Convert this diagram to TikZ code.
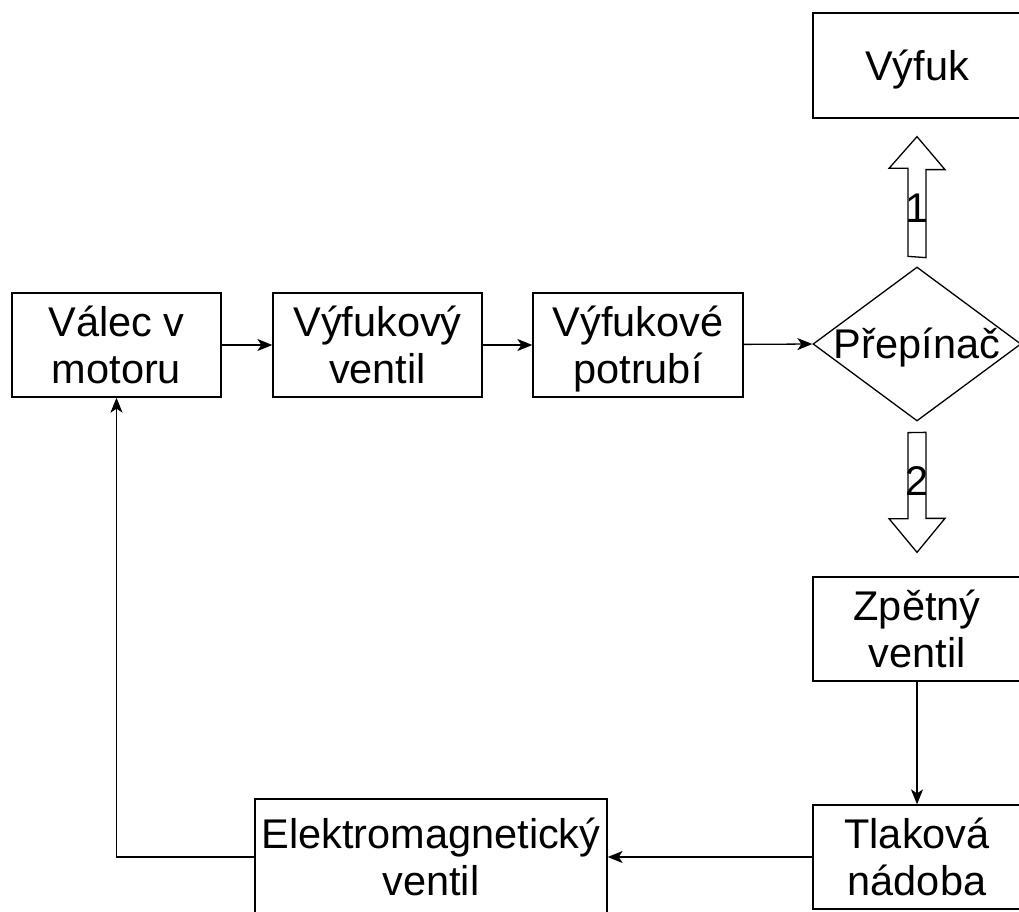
\documentclass[tikz,border=0pt]{standalone}
\usepackage{fontspec}
\setmainfont{Liberation Sans}
\usetikzlibrary{calc,arrows.meta,positioning,shapes.geometric}

% same line box for every text line
\newcommand{\lnstrut}{\rule[-8pt]{0pt}{46pt}}

\tikzset{
  box/.style={draw,line width=1.3pt,minimum width=209pt,minimum height=104pt,
    inner sep=0pt,align=center,font=\fontsize{41.5}{47}\selectfont},
  conn/.style={line width=1.3pt,-{Stealth[length=15pt,width=12pt,inset=4pt]}},
  blockarr/.style={draw,line width=1.3pt,line join=miter},
  numlabel/.style={inner sep=0pt,font=\fontsize{41.5}{47}\selectfont}
}

\begin{document}
\begin{tikzpicture}[x=1pt,y=-1pt]
        \useasboundingbox (0,0) rectangle (1019,912);
        \clip (0,0) rectangle (1019,912);

        % upper row
        \node[box] (valec) at (116.5,345) {Válec v\lnstrut\\motoru\lnstrut};
        \node[box] (vventil) at (377.5,345) {Výfukový\lnstrut\\ventil\lnstrut};
        \node[box,minimum width=210pt] (potrubi) at (638,345) {Výfukové\lnstrut\\potrubí\lnstrut};
        \node[diamond,draw,line width=1.3pt,minimum width=208pt,minimum height=154pt,
              inner sep=0pt,label={[numlabel]center:Přepínač\lnstrut}] (prep) at (917,344) {};

        % right column
        \node[box,minimum width=208pt,minimum height=105pt] (vyfuk) at (917,65.5) {Výfuk\lnstrut};
        \node[box,minimum width=208pt] (zpet) at (917,629) {Zpětný\lnstrut\\ventil\lnstrut};
        \node[box,minimum width=208pt] (tlak) at (917,857) {Tlaková\lnstrut\\nádoba\lnstrut};

        % bottom
        \node[box,minimum width=352pt,minimum height=116pt] (elmag) at (431,857) {Elektromagnetický\lnstrut\\ventil\lnstrut};

        \draw[conn] (valec) -- (vventil);
        \draw[conn] (vventil) -- (potrubi);
        \draw[conn] (potrubi) -- (prep.west);
        \draw[conn] (zpet) -- (tlak);
        \draw[conn] (tlak) -- (elmag);
        \draw[conn] (elmag) -| (valec.south);

        % block arrows out of the switch
        \path (prep.north) ++(0,-10) coordinate (b1s);
        \path (vyfuk.south) ++(0,18) coordinate (b1t);
        \path (prep.south) ++(0,11) coordinate (b2s);
        \path (zpet.north) ++(0,-24) coordinate (b2t);

        \draw[blockarr] (b1s) ++(-9,0) -- ++(0,-88) -- ++(-19,0) -- (b1t)
              -- ++(28,33) -- ++(-19,0) -- ++(0,88) -- cycle;
        \draw[blockarr] (b2s) ++(-9,0) -- ++(0,86) -- ++(-19,0) -- (b2t)
              -- ++(28,-34) -- ++(-19,0) -- ++(0,-86) -- cycle;

        \node[numlabel] (one) at (917,208) {1};
        \node[numlabel] (two) at (917,481) {2};
    \end{tikzpicture}
\end{document}
